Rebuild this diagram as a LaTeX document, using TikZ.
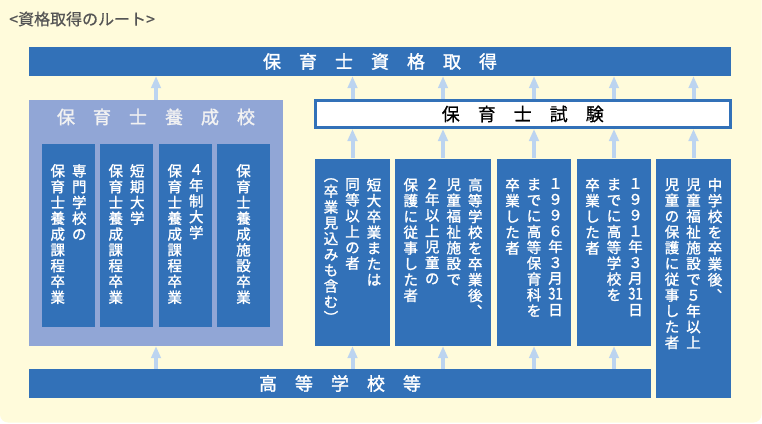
\documentclass[tikz,border=0pt]{standalone}
\usepackage{fontspec}
\usepackage{graphicx}
\setmainfont{Noto Sans CJK JP}[FakeBold=1.5]
\newfontfamily\plainjp{Noto Sans CJK JP}[FakeBold=0.6]
\usetikzlibrary{arrows.meta}
\definecolor{bblue}{HTML}{3271B8}
\definecolor{lav}{HTML}{91A6D6}
\definecolor{bgy}{HTML}{FFFBDB}
\definecolor{arrowc}{HTML}{BCD4F0}
\definecolor{titlegray}{HTML}{555555}
\newcommand\tcy[1]{\scalebox{0.9}[1.12]{#1}}
\begin{document}
\begin{tikzpicture}[x=1pt,y=-1pt,
  bluebox/.style={fill=bblue,draw=none,inner sep=0pt},
  bigtext/.style={font=\fontsize{18}{18}\selectfont},
  col/.style={inner sep=0pt,anchor=north,align=center,text=white,font=\fontsize{14.5}{15.8}\selectfont},
  arr/.style={draw=arrowc,line width=4pt,-{Triangle[width=9.5pt,length=12pt]}}]
\useasboundingbox (0,0) rectangle (762,423);
\fill[white] (0,0) rectangle (762,423);
\fill[bgy,rounded corners=8pt] (0,-12) rectangle (761.5,422.5);

\node[anchor=west,inner sep=0pt,text=titlegray,font=\plainjp\fontsize{16}{16}\selectfont] (title) at (9,19) {<資格取得のルート>};

% nodes (shapes only first, for arrows)
\path
  (380,61.5) node[bluebox,minimum width=702pt,minimum height=29pt] (cert) {}
  (156,223) node[fill=lav,inner sep=0pt,minimum width=254pt,minimum height=246pt] (school) {}
  (522.75,114) coordinate (shc)
  (352.5,252.25) node[bluebox,minimum width=75pt,minimum height=187.5pt] (bA) {}
  (443,252.25) node[bluebox,minimum width=96pt,minimum height=187.5pt] (bB) {}
  (534,252.25) node[bluebox,minimum width=74pt,minimum height=187.5pt] (bC) {}
  (614,252.25) node[bluebox,minimum width=74pt,minimum height=187.5pt] (bD) {}
  (693.5,278.25) node[bluebox,minimum width=75pt,minimum height=239.5pt] (bE) {}
  (340,383.5) node[bluebox,minimum width=622pt,minimum height=29pt] (hs) {};
\node[fill=white,draw=bblue,line width=3pt,inner sep=0pt,minimum width=414.5pt,minimum height=27pt] (shiken) at (shc) {};

% arrows
\draw[arr] (school.north) -- (school.north |- cert.south);
\draw[arr] (hs.north -| school.south) -- (school.south);
\foreach \b in {bA,bB,bC,bD,bE}{
  \draw[arr] (\b.north) -- (\b.north |- shiken.south);
  \draw[arr] (shiken.north -| \b.north) -- (\b.north |- cert.south);
}
\foreach \b in {bA,bB,bC,bD}{
  \draw[arr] (hs.north -| \b.south) -- (\b.south);
}

% redraw boxes on top of arrow ends
\path
  (380,61.5) node[bluebox,minimum width=702pt,minimum height=29pt,text=white,bigtext] (certT) {保　育　士　資　格　取　得}
  (156,223) node[fill=lav,inner sep=0pt,minimum width=254pt,minimum height=246pt] (schoolB) {}
  (340,383.5) node[bluebox,minimum width=622pt,minimum height=29pt,text=white,bigtext] (hsT) {高　等　学　校　等};
\node[fill=white,draw=bblue,line width=3pt,inner sep=0pt,minimum width=414.5pt,minimum height=27pt,font=\plainjp\fontsize{18}{18}\selectfont,text=black] (shikenT) at (shc) {保　育　士　試　験};
\node[text=white!95!black,bigtext,inner sep=0pt] (schoolT) at (156,117) {保　育　士　養　成　校};

% school inner boxes
\path
  (68.5,235.5) node[bluebox,minimum width=53pt,minimum height=183pt] (s1) {}
  (126.5,235.5) node[bluebox,minimum width=53pt,minimum height=183pt] (s2) {}
  (185.5,235.5) node[bluebox,minimum width=53pt,minimum height=183pt] (s3) {}
  (243.5,235.5) node[bluebox,minimum width=53pt,minimum height=183pt] (s4) {};

\node[col] (s1a) at (79.25,164) {専\\門\\学\\校\\の};
\node[col] (s1b) at (57.75,164) {保\\育\\士\\養\\成\\課\\程\\卒\\業};
\node[col] (s2a) at (137.25,164) {短\\期\\大\\学};
\node[col] (s2b) at (115.75,164) {保\\育\\士\\養\\成\\課\\程\\卒\\業};
\node[col] (s3a) at (196.25,164) {４\\年\\制\\大\\学};
\node[col] (s3b) at (174.75,164) {保\\育\\士\\養\\成\\課\\程\\卒\\業};
\node[col] (s4a) at (243.5,164) {保\\育\\士\\養\\成\\施\\設\\卒\\業};

% right boxes text
\node[col] (aA1) at (374,178) {短\\大\\卒\\業\\ま\\た\\は};
\node[col] (aA2) at (352.5,178) {同\\等\\以\\上\\の\\者};
\node[col] (aA3) at (331,178) {︵\\卒\\業\\見\\込\\み\\も\\含\\む\\︶};

\node[col] (aB1) at (475.25,178) {高\\等\\学\\校\\を\\卒\\業\\後\\︑};
\node[col] (aB2) at (453.75,178) {児\\童\\福\\祉\\施\\設\\で};
\node[col] (aB3) at (432.25,178) {２\\年\\以\\上\\児\\童\\の};
\node[col] (aB4) at (410.75,178) {保\\護\\に\\従\\事\\し\\た\\者};

\node[col] (aC1) at (555.5,178) {１\\９\\９\\６\\年\\３\\月\\\tcy{31}\\日};
\node[col] (aC2) at (534,178) {ま\\で\\に\\高\\等\\保\\育\\科\\を};
\node[col] (aC3) at (512.5,178) {卒\\業\\し\\た\\者};

\node[col] (aD1) at (635.5,178) {１\\９\\９\\１\\年\\３\\月\\\tcy{31}\\日};
\node[col] (aD2) at (614,178) {ま\\で\\に\\高\\等\\学\\校\\を};
\node[col] (aD3) at (592.5,178) {卒\\業\\し\\た\\者};

\node[col] (aE1) at (715,178) {中\\学\\校\\を\\卒\\業\\後\\︑};
\node[col] (aE2) at (693.5,178) {児\\童\\福\\祉\\施\\設\\で\\５\\年\\以\\上};
\node[col] (aE3) at (672,178) {児\\童\\の\\保\\護\\に\\従\\事\\し\\た\\者};
\end{tikzpicture}
\end{document}
